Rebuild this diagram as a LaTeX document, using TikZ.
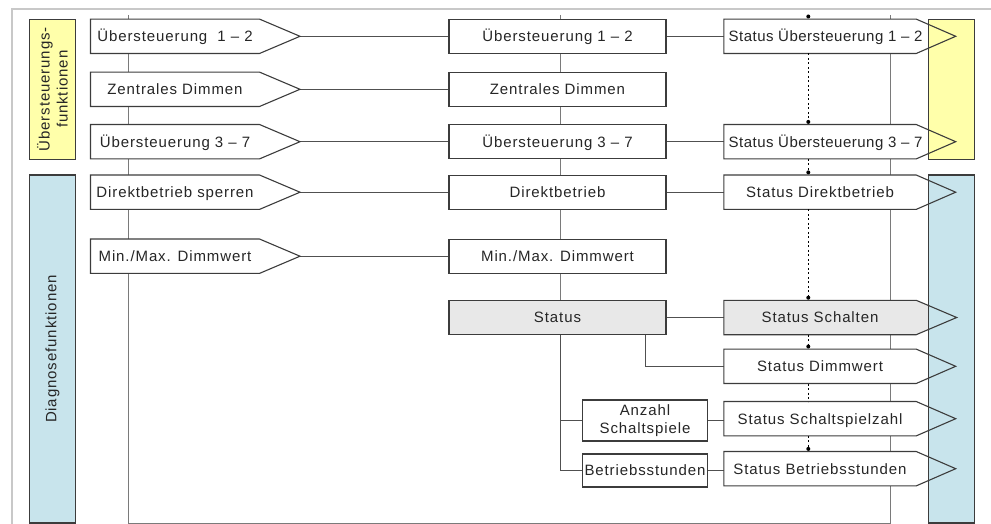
\documentclass[tikz,border=0pt]{standalone}
\usepackage{fontspec}
\setmainfont{Liberation Sans}[LetterSpace=6]
\newfontfamily\tightfont{Liberation Sans}[LetterSpace=3.3]
\usetikzlibrary{calc}
\definecolor{outerc}{HTML}{C8C8C8}
\definecolor{gridc}{HTML}{7A7A7A}
\definecolor{connc}{HTML}{505050}
\definecolor{edgec}{HTML}{3C3C3C}
\definecolor{yel}{HTML}{FFFFAA}
\definecolor{blu}{HTML}{C8E4EC}
\definecolor{gry}{HTML}{E8E8E8}
\pgfdeclarelayer{lines}
\pgfdeclarelayer{fills}
\pgfdeclarelayer{rects}
\pgfsetlayers{lines,fills,rects,main}
\newcommand\pent[7]{%
  \node[pbody, minimum width={#3-#2}] (#1) at ({(#2+#3)/2},#5) {\makebox[0pt]{#7}};
  \coordinate (#1-tip) at (#4,#5);
  \begin{pgfonlayer}{fills}
    \fill[#6] (#1.north west) -- (#1.north east) -- (#1-tip) -- (#1.south east) -- (#1.south west) -- cycle;
  \end{pgfonlayer}
  \draw[pline] (#1.north west) -- (#1.north east) -- (#1-tip) -- (#1.south east) -- (#1.south west) -- cycle;
}
\begin{document}
\begin{tikzpicture}[x=1pt,y=-1pt,
  every node/.style={font=\fontsize{15}{18}\selectfont, text=black!85},
  pbody/.style={inner sep=0pt, minimum height=34pt, text height=14pt, text depth=3.2pt},
  pline/.style={draw=edgec, line width=1.1pt, line join=miter},
  mbox/.style={draw=edgec, fill=white, line width=1.1pt, inner sep=0pt, minimum width=217pt, minimum height=34pt, text height=14pt, text depth=3.2pt},
  sbox/.style={draw=edgec, fill=white, line width=1.1pt, inner sep=0pt, minimum width=125.4pt},
  crect/.style={draw=edgec, line width=1.1pt, inner sep=0pt},
  conn/.style={draw=connc, line width=1pt},
  gridl/.style={draw=gridc, line width=1pt},
  outer/.style={draw=outerc, line width=2.2pt},
  dotl/.style={draw=black, line width=1pt, dash pattern=on 2pt off 2.5pt},
  ]
\useasboundingbox (0,0) rectangle (991,524);

% middle boxes
\node[mbox] (m1) at (557.5,36.3) {Übersteuerung 1 – 2};
\node[mbox] (m2) at (557.5,89.3) {Zentrales Dimmen};
\node[mbox] (m3) at (557.5,141.7) {Übersteuerung 3 – 7};
\node[mbox] (m4) at (557.5,192.2) {Direktbetrieb};
\node[mbox] (m5) at (557.5,256.2) {Min./Max. Dimmwert};
\node[mbox, fill=gry] (st) at (557.5,317.5) {Status};

% input pentagons
\pent{i1}{90.7}{259.3}{300}{36.3}{white}{Übersteuerung\ \ 1 – 2}
\pent{i2}{90.7}{259.3}{300}{89.3}{white}{Zentrales Dimmen}
\pent{i3}{90.7}{259.3}{300}{141.7}{white}{Übersteuerung 3 – 7}
\pent{i4}{90.7}{259.3}{300}{192.2}{white}{Direktbetrieb sperren}
\pent{i5}{90.7}{259.3}{300}{256.2}{white}{Min./Max. Dimmwert}

% output pentagons
\pent{o1}{724}{916}{955.7}{36.3}{white}{\hspace{11pt}\tightfont Status Übersteuerung 1 – 2}
\pent{o3}{724}{916}{955.7}{141.7}{white}{\hspace{11pt}\tightfont Status Übersteuerung 3 – 7}
\pent{o4}{724}{916}{955.7}{192.2}{white}{Status Direktbetrieb}
\pent{os}{724}{916}{956.7}{317.5}{gry}{Status Schalten}
\pent{od}{724}{916}{955.7}{366.3}{white}{Status Dimmwert}
\pent{oz}{724}{916}{955.7}{418.7}{white}{Status Schaltspielzahl}
\pent{ob}{724}{916}{955.7}{468.7}{white}{Status Betriebsstunden}

% small boxes
\node[sbox, align=center, minimum height=41pt] (anz) at (645,420.5) {Anzahl\\Schaltspiele};
\node[sbox, minimum height=33pt, text height=14pt, text depth=3.2pt] (bst) at (645,470.5) {Betriebsstunden};

% coloured side bars
\begin{pgfonlayer}{rects}
\node[crect, fill=yel, minimum width=46.4pt, minimum height=140pt] (ly) at (52.5,89.3) {};
\node[crect, fill=blu, minimum width=46.4pt, minimum height=348pt] (lb) at (52.5,349) {};
\node[crect, fill=yel, minimum width=46pt, minimum height=140pt] (ry) at (951.3,89.3) {};
\node[crect, fill=blu, minimum width=46pt, minimum height=348pt] (rb) at (951.3,349) {};
\end{pgfonlayer}
\node[rotate=90, align=center] (lyt) at (ly) {Übersteuerungs-\\funktionen};
\node[rotate=90] (lbt) at (lb) {Diagnosefunktionen};

% frame and connectors
\coordinate (t560) at (560,15);
\coordinate (sdb) at (645.7,334.3);
\begin{pgfonlayer}{lines}
\draw[outer] (991,9) -- (11.8,9) -- (11.8,524);
\draw[gridl] (128,15) -- (128,523) -- (890,523) -- (890,15);
\draw[gridl] (t560) -- (t560 |- st.center);
\draw[conn] (i1-tip) -- (m1.west);
\draw[conn] (i2-tip) -- (m2.west);
\draw[conn] (i3-tip) -- (m3.west);
\draw[conn] (i4-tip) -- (m4.west);
\draw[conn] (i5-tip) -- (m5.west);
\draw[conn] (m1.east) -- (o1.west);
\draw[conn] (m3.east) -- (o3.west);
\draw[conn] (m4.east) -- (o4.west);
\draw[conn] (st.east) -- (os.west);
\draw[conn] (sdb) |- (od.west);
\draw[conn] (t560 |- st.south) -- (t560 |- bst) -- (bst.west);
\draw[conn] (t560 |- anz) -- (anz.west);
\draw[conn] (anz.east) -- (anz.east -| oz.west);
\draw[conn] (bst.east) -- (bst.east -| ob.west);
\end{pgfonlayer}

% dotted status chain
\coordinate (dx) at (808.3,0);
\draw[dotl] ($(o1.north -| dx)+(0,-2.6)$) -- (o1.north -| dx);
\draw[dotl] (o1.south -| dx) -- ($(o3.north -| dx)+(0,-2.6)$);
\draw[dotl] (o3.south -| dx) -- ($(o4.north -| dx)+(0,-2.6)$);
\draw[dotl] (o4.south -| dx) -- ($(os.north -| dx)+(0,-2.6)$);
\draw[dotl] (os.south -| dx) -- ($(od.north -| dx)+(0,-2.6)$);
\draw[dotl] (od.south -| dx) -- (oz.north -| dx);
\draw[dotl] (oz.south -| dx) -- ($(ob.north -| dx)+(0,-2.6)$);
\foreach \n in {o1,o3,o4,os,od,ob}
  \fill[black] ($(\n.north -| dx)+(0,-2.6)$) circle (2pt);
\end{tikzpicture}
\end{document}
